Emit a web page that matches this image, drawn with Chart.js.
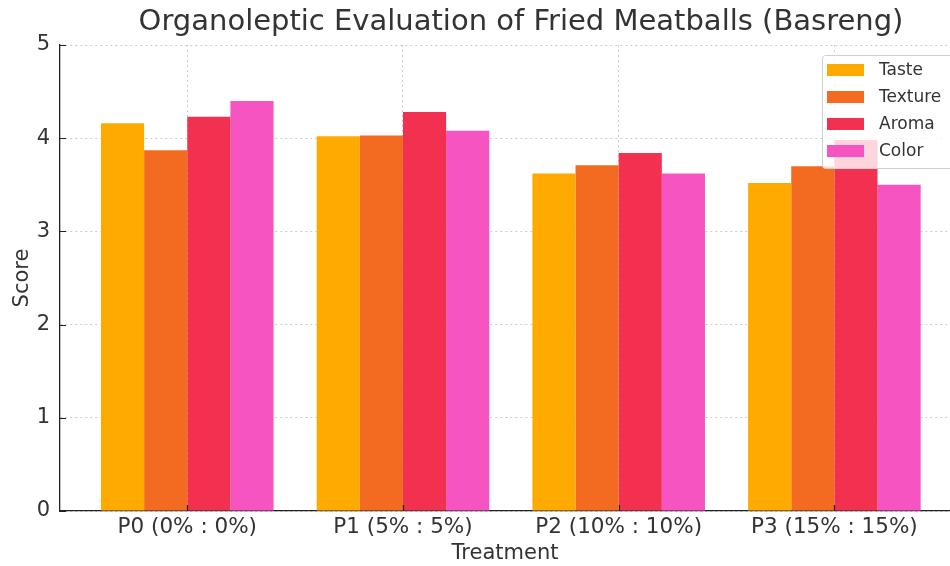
<!DOCTYPE html>
<html>
<head>
<meta charset="utf-8">
<script src="https://cdn.jsdelivr.net/npm/chart.js@4.4.1/dist/chart.umd.min.js"></script>
<style>
  html, body { margin: 0; padding: 0; background: #fff; overflow: hidden; }
  #wrap { width: 950px; height: 566px; position: relative; }
</style>
</head>
<body>
<div id="wrap"><canvas id="chart" width="950" height="566"></canvas></div>
<script>
const chartTitle = "Organoleptic Evaluation of Fried Meatballs (Basreng)";
const categories = ["P0 (0% : 0%)", "P1 (5% : 5%)", "P2 (10% : 10%)", "P3 (15% : 15%)"];
const seriesNames = ["Taste", "Texture", "Aroma", "Color"];
const taste = [4.16, 4.02, 3.62, 3.52];
const texture = [3.87, 4.03, 3.71, 3.70];
const aroma = [4.23, 4.28, 3.84, 3.98];
const color = [4.40, 4.08, 3.62, 3.50];
const yTicks = [0, 1, 2, 3, 4, 5];
const colors = ["#ffaa00", "#f26b21", "#f2304f", "#f654c0"];

const textColor = "#333333";
const gridColor = "rgba(170,170,170,0.6)";

// title centred over the (uncropped) axes, drawn by hand
const titlePlugin = {
  id: "titlePlugin",
  afterDraw(chart) {
    const c = chart.ctx;
    c.save();
    c.font = "29px 'DejaVu Sans'";
    c.fillStyle = textColor;
    c.textAlign = "center";
    c.textBaseline = "middle";
    c.fillText(chartTitle, 521, 22);
    c.restore();
  }
};

// matplotlib style inward tick marks
const tickPlugin = {
  id: "tickPlugin",
  afterDatasetsDraw(chart) {
    const c = chart.ctx;
    const area = chart.chartArea;
    const x = chart.scales.x, y = chart.scales.y;
    c.save();
    c.strokeStyle = "#222";
    c.lineWidth = 1.2;
    c.beginPath();
    y.ticks.forEach(t => {
      const py = Math.round(y.getPixelForValue(t.value)) + 0.5;
      c.moveTo(area.left, py);
      c.lineTo(area.left + 6, py);
    });
    x.ticks.forEach(t => {
      const px = Math.round(x.getPixelForValue(t.value)) + 0.5;
      c.moveTo(px, area.bottom);
      c.lineTo(px, area.bottom - 6);
    });
    c.stroke();
    c.restore();
  }
};

// legend box inside the plot, upper right (partly cropped in the original)
const legendPlugin = {
  id: "legendPlugin",
  afterDraw(chart) {
    const c = chart.ctx;
    const boxX = 822, boxY = 55, boxW = 150, boxH = 113;
    c.save();
    c.fillStyle = "rgba(255,255,255,0.8)";
    c.strokeStyle = "#d0d0d0";
    c.lineWidth = 1;
    c.beginPath();
    c.roundRect(boxX + 0.5, boxY + 0.5, boxW, boxH, 3);
    c.fill();
    c.stroke();
    c.font = "17px 'DejaVu Sans'";
    c.textBaseline = "middle";
    chart.data.datasets.forEach((ds, i) => {
      const cy = boxY + 15 + i * 27;
      c.fillStyle = ds.backgroundColor;
      c.fillRect(boxX + 5, cy - 6, 37, 12);
      c.fillStyle = textColor;
      c.fillText(ds.label, boxX + 57, cy + 1);
    });
    c.restore();
  }
};

const seriesValues = [taste, texture, aroma, color];

new Chart(document.getElementById("chart"), {
  type: "bar",
  data: {
    datasets: seriesNames.map((name, i) => ({
      label: name,
      data: seriesValues[i].map((v, j) => ({ x: j, y: v })),
      backgroundColor: colors[i],
      borderWidth: 0,
      categoryPercentage: 0.8,
      barPercentage: 1.0
    }))
  },
  options: {
    responsive: false,
    animation: false,
    layout: { padding: { top: 45, right: 0, left: 0, bottom: 0 } },
    plugins: {
      legend: { display: false },
      title: { display: false },
      tooltip: { enabled: false }
    },
    scales: {
      x: {
        type: "linear",
        min: -0.59,
        max: 3.536,
        offset: false,
        z: 1,
        afterFit: s => { s.height = 55; },
        afterBuildTicks: s => { s.ticks = categories.map((_, i) => ({ value: i })); },
        border: { display: true, color: "#222", width: 1.3, dash: [2, 3] },
        grid: { color: gridColor, drawTicks: false, lineWidth: 1, offset: false },
        ticks: {
          color: textColor,
          font: { family: "DejaVu Sans", size: 21.5 },
          padding: 4,
          maxRotation: 0,
          callback: v => categories[v]
        },
        title: {
          display: true,
          text: "Treatment",
          color: textColor,
          font: { family: "DejaVu Sans", size: 21 },
          padding: { top: 0, bottom: 0 }
        }
      },
      y: {
        min: 0,
        max: 5,
        z: 1,
        afterFit: s => { s.width = 60; },
        afterBuildTicks: s => { s.ticks = yTicks.map(v => ({ value: v })); },
        border: { display: true, color: "#222", width: 1.3, dash: [2, 3] },
        grid: { color: gridColor, drawTicks: false, lineWidth: 1 },
        ticks: {
          color: textColor,
          font: { family: "DejaVu Sans", size: 21 },
          padding: 10
        },
        title: {
          display: true,
          text: "Score",
          color: textColor,
          font: { family: "DejaVu Sans", size: 21 },
          padding: { top: 10, bottom: 0 }
        }
      }
    }
  },
  plugins: [titlePlugin, tickPlugin, legendPlugin]
});
</script>
</body>
</html>
